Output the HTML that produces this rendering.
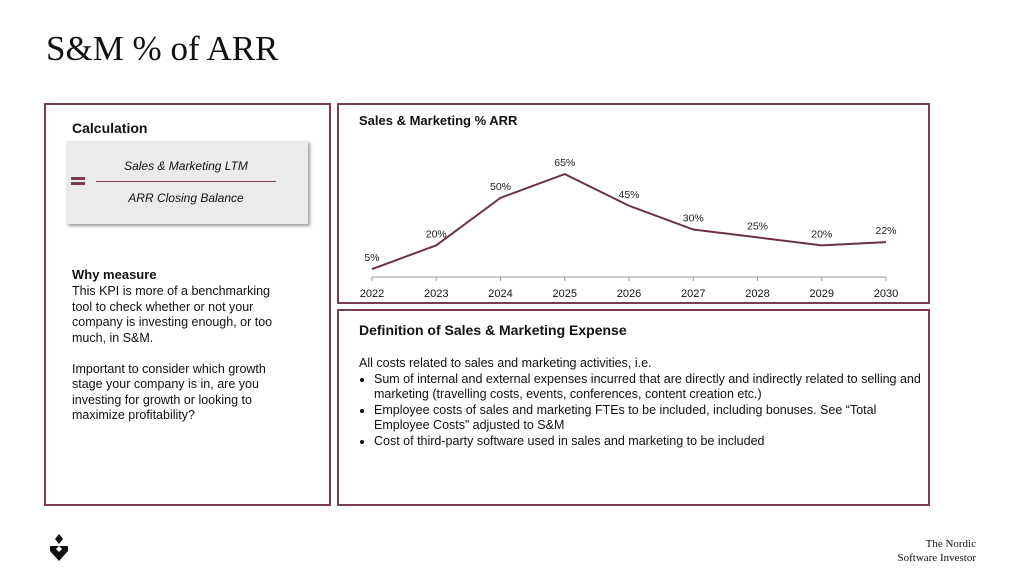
<!DOCTYPE html>
<html><head><meta charset="utf-8"><style>
body{margin:0;width:1024px;height:577px;background:#fff;font-family:"Liberation Sans",sans-serif;position:relative;overflow:hidden;color:#111}
.abs{position:absolute}
.box{position:absolute;border:2px solid #7b3d4c;box-sizing:border-box}
h1{position:absolute;left:46px;top:29px;margin:0;font-family:"Liberation Serif",serif;font-weight:normal;font-size:35px}
.t{font-size:12.5px;line-height:15.5px}
ul{margin:0;padding-left:15px}
</style></head><body>
<h1>S&amp;M % of ARR</h1>

<div class="box" style="left:44px;top:103px;width:287px;height:403px">
 <div class="abs" style="left:26px;top:15px;font-weight:bold;font-size:14px">Calculation</div>
 <div class="abs" style="left:20px;top:36px;width:242px;height:83px;background:#ebebeb;box-shadow:2px 2px 3px #999">
  <div class="abs" style="left:5px;top:36px;width:14px;height:3px;background:#7b3d4c;box-shadow:0 5px 0 #7b3d4c"></div>
  <div class="abs" style="left:30px;top:18px;width:180px;text-align:center;font-style:italic;font-size:12px">Sales &amp; Marketing LTM</div>
  <div class="abs" style="left:30px;top:40px;width:180px;height:1px;background:#7b3d4c"></div>
  <div class="abs" style="left:30px;top:50px;width:180px;text-align:center;font-style:italic;font-size:12px">ARR Closing Balance</div>
 </div>
 <div class="abs" style="left:26px;top:162px;font-weight:bold;font-size:13px">Why measure</div>
 <div class="abs t" style="left:26px;top:179px;width:212px">This KPI is more of a benchmarking tool to check whether or not your company is investing enough, or too much, in S&amp;M.<br><br>Important to consider which growth stage your company is in, are you investing for growth or looking to maximize profitability?</div>
</div>

<div class="box" style="left:337px;top:103px;width:593px;height:201px">
 <div class="abs" style="left:20px;top:8px;font-weight:bold;font-size:13px">Sales &amp; Marketing % ARR</div>
</div>
<svg class="abs" style="left:0;top:0" width="1024" height="577" id="chart"></svg>

<div class="box" style="left:337px;top:309px;width:593px;height:197px">
 <div class="abs" style="left:20px;top:11px;font-weight:bold;font-size:14px">Definition of Sales &amp; Marketing Expense</div>
 <div class="abs t" style="left:20px;top:45px;width:565px">All costs related to sales and marketing activities, i.e.
 <ul><li>Sum of internal and external expenses incurred that are directly and indirectly related to selling and marketing (travelling costs, events, conferences, content creation etc.)</li>
 <li>Employee costs of sales and marketing FTEs to be included, including bonuses. See “Total Employee Costs” adjusted to S&amp;M</li>
 <li>Cost of third-party software used in sales and marketing to be included</li></ul></div>
</div>

<svg class="abs" style="left:48px;top:534px" width="22" height="28">
 <polygon points="11,0 15,5 11,10 7,5" fill="#111"/><polygon points="2,12 11,12 20,12 20,17 11,27 2,17" fill="#111"/><polygon points="11,12 14,15 11,18 8,15" fill="#fff"/>
</svg>
<div class="abs" style="right:48px;top:537px;text-align:right;font-family:'Liberation Serif',serif;font-size:11px;line-height:14px">The Nordic<br>Software Investor</div>

<script>
const categories=["2022","2023","2024","2025","2026","2027","2028","2029","2030"];
const values=[5,20,50,65,45,30,25,20,22];
const labels=["5%","20%","50%","65%","45%","30%","25%","20%","22%"];
const svg=document.getElementById('chart');const NS='http://www.w3.org/2000/svg';
const x=i=>372+i*(886-372)/(categories.length-1);
const y=v=>277-v*1.583;
function mk(t,a){const e=document.createElementNS(NS,t);for(const k in a)e.setAttribute(k,a[k]);svg.appendChild(e);return e;}
const ax=mk('line',{x1:372,x2:886,y1:277,y2:277,stroke:'#999','stroke-width':1});


categories.forEach((c,i)=>{
 const tk=mk('line',{x1:x(i),x2:x(i),y1:277,y2:281,stroke:'#999'});
 
 
 const t=mk('text',{x:x(i),y:297,'text-anchor':'middle','font-size':11,'font-family':'Liberation Sans, sans-serif',fill:'#111'});
 t.textContent=c;
 
 
});
const line=mk('polyline',{points:values.map((v,i)=>x(i)+','+y(v)).join(' '),fill:'none',stroke:'#6e3340','stroke-width':2});


values.forEach((v,i)=>{
 const t=mk('text',{x:x(i),y:y(v)-8,'text-anchor':'middle','font-size':10.5,'font-family':'Liberation Sans, sans-serif',fill:'#222'});
 t.textContent=labels[i];
 
 
});
</script>
</body></html>
